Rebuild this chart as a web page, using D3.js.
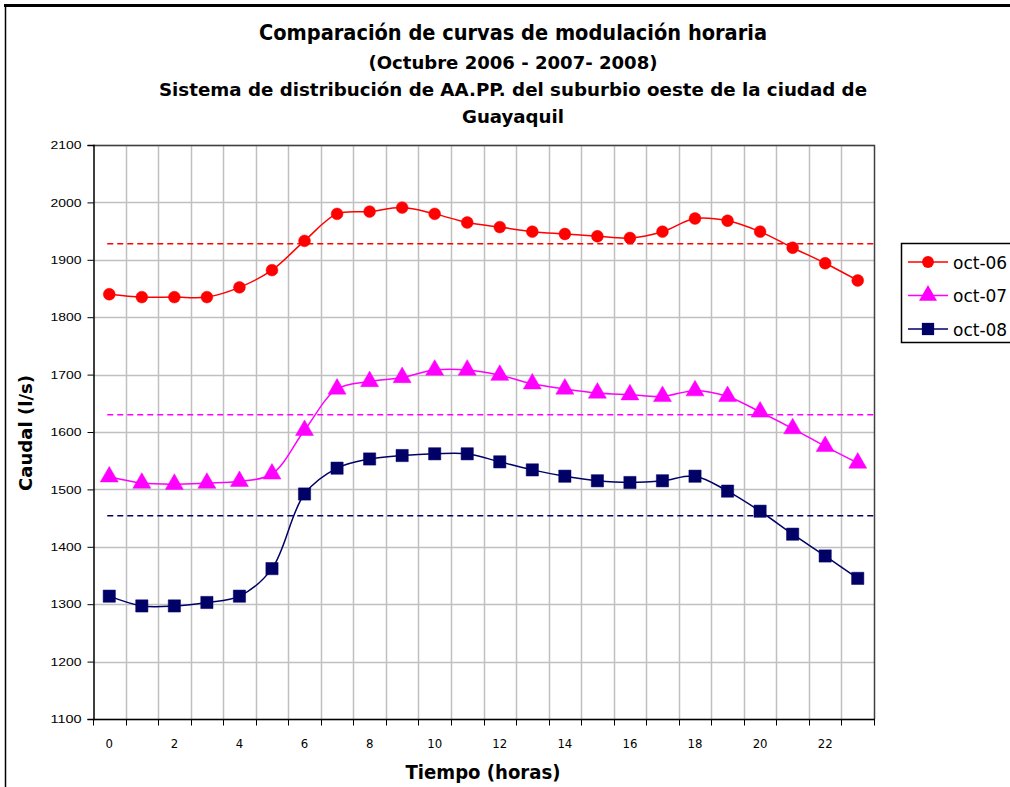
<!DOCTYPE html>
<html>
<head>
<meta charset="utf-8">
<script src="https://cdn.jsdelivr.net/npm/d3@7"></script>
<style>
  html, body { margin: 0; padding: 0; background: #fff; }
  svg { display: block; }
</style>
</head>
<body>
<svg id="chart" width="1010" height="787"></svg>
<script>
// Hourly flow (l/s) for the west-suburb distribution system, October of each year
const hours = d3.range(0, 24);
const tickHours = [0, 2, 4, 6, 8, 10, 12, 14, 16, 18, 20, 22];
const yTicks = [1100, 1200, 1300, 1400, 1500, 1600, 1700, 1800, 1900, 2000, 2100];

const oct06 = [1840, 1835, 1835, 1835, 1852, 1882, 1933, 1980, 1984, 1991, 1980, 1965,
               1957, 1949, 1945, 1941, 1938, 1949, 1972, 1968, 1949, 1921, 1894, 1864];
const oct07 = [1522, 1511, 1509, 1511, 1514, 1527, 1603, 1675, 1688, 1695, 1708, 1708,
               1699, 1684, 1675, 1668, 1665, 1662, 1672, 1662, 1635, 1606, 1575, 1546];
const oct08 = [1314, 1297, 1297, 1303, 1314, 1362, 1492, 1537, 1553, 1559, 1562, 1562,
               1548, 1534, 1523, 1515, 1512, 1515, 1523, 1497, 1462, 1422, 1384, 1345];
// Monthly mean flow for each year (dashed reference lines)
const means = [1928, 1630, 1454];

const seriesNames = ["oct-06", "oct-07", "oct-08"];
const seriesColors = ["#ff0000", "#ff00ff", "#000066"];
const seriesSymbols = [d3.symbolCircle, d3.symbolTriangle, d3.symbolSquare];
const seriesValues = [oct06, oct07, oct08];

const titleLines = [
  "Comparación de curvas de modulación horaria",
  "(Octubre 2006 - 2007- 2008)",
  "Sistema de distribución de AA.PP. del suburbio oeste de la ciudad de",
  "Guayaquil"
];

const svg = d3.select("#chart");
const plot = { left: 93, right: 874, top: 145, bottom: 719 };

const x = d3.scaleBand().domain(hours).range([plot.left, plot.right]).paddingInner(0).paddingOuter(0);
const xc = h => x(h) + x.bandwidth() / 2;
const y = d3.scaleLinear().domain([1100, 2100]).range([plot.bottom, plot.top]);

// outer chart frame
svg.append("line").attr("x1", 4).attr("x2", 1010).attr("y1", 5.5).attr("y2", 5.5)
  .attr("stroke", "#000").attr("stroke-width", 3);
svg.append("line").attr("x1", 5.5).attr("x2", 5.5).attr("y1", 4).attr("y2", 787)
  .attr("stroke", "#000").attr("stroke-width", 1.5);

// titles
const titleFont = "'DejaVu Sans Condensed', 'DejaVu Sans', sans-serif";
const titleSpec = [
  { y: 40, size: 21, width: 508 },
  { y: 69, size: 18, width: 289 },
  { y: 96, size: 18, width: 708 },
  { y: 123, size: 18, width: 102 }
];
titleLines.forEach((t, i) => {
  svg.append("text")
    .attr("x", 513).attr("y", titleSpec[i].y)
    .attr("text-anchor", "middle")
    .attr("font-family", titleFont)
    .attr("font-weight", "bold")
    .attr("font-size", titleSpec[i].size)
    .attr("textLength", titleSpec[i].width)
    .attr("lengthAdjust", "spacingAndGlyphs")
    .attr("fill", "#000")
    .text(t);
});

// gridlines
const grid = svg.append("g");
grid.selectAll("line.h").data(yTicks).join("line")
  .attr("x1", plot.left).attr("x2", plot.right)
  .attr("y1", d => Math.round(y(d)) + 0.5).attr("y2", d => Math.round(y(d)) + 0.5)
  .attr("stroke", "#c0c0c0").attr("stroke-width", 1.5);
grid.selectAll("line.v").data(hours.slice(1)).join("line")
  .attr("x1", d => Math.round(x(d)) + 0.5).attr("x2", d => Math.round(x(d)) + 0.5)
  .attr("y1", plot.top).attr("y2", plot.bottom)
  .attr("stroke", "#c0c0c0").attr("stroke-width", 1.5);

// plot frame (top and right)
svg.append("path")
  .attr("d", `M${plot.left},${plot.top + 0.5}H${plot.right + 0.5}V${plot.bottom}`)
  .attr("fill", "none").attr("stroke", "#404040").attr("stroke-width", 1.5);

// y axis
const yAxis = svg.append("g")
  .attr("transform", `translate(${plot.left + 0.5},0)`)
  .call(d3.axisLeft(y).tickValues(yTicks).tickSize(6).tickPadding(6).tickFormat(d3.format("d")));
yAxis.select(".domain").attr("stroke", "#000").attr("stroke-width", 1.5);
yAxis.selectAll(".tick line").attr("stroke", "#000");
yAxis.selectAll("text")
  .attr("font-family", "'Liberation Sans', Arial, sans-serif")
  .attr("font-size", 11.5).attr("fill", "#000")
  .attr("textLength", 31).attr("lengthAdjust", "spacingAndGlyphs");

// x axis: ticks on band boundaries, labels under every second hour
const xAxisG = svg.append("g").attr("transform", `translate(0,${plot.bottom + 0.5})`);
xAxisG.append("line").attr("x1", plot.left).attr("x2", plot.right + 1)
  .attr("stroke", "#000").attr("stroke-width", 1.5);
xAxisG.selectAll("line.t").data(hours.concat([24])).join("line")
  .attr("x1", d => Math.round(d === 24 ? plot.right : x(d)) + 0.5)
  .attr("x2", d => Math.round(d === 24 ? plot.right : x(d)) + 0.5)
  .attr("y1", 0).attr("y2", 6)
  .attr("stroke", "#000");
xAxisG.selectAll("text").data(tickHours).join("text")
  .attr("x", d => xc(d)).attr("y", 28)
  .attr("text-anchor", "middle")
  .attr("font-family", "'DejaVu Sans Condensed', sans-serif")
  .attr("font-size", 13).attr("fill", "#000")
  .text(d => d);

// axis titles
svg.append("text")
  .attr("x", 483).attr("y", 779)
  .attr("text-anchor", "middle")
  .attr("font-family", titleFont).attr("font-weight", "bold").attr("font-size", 19)
  .attr("textLength", 155).attr("lengthAdjust", "spacingAndGlyphs")
  .text("Tiempo (horas)");
svg.append("text")
  .attr("transform", "translate(32,433) rotate(-90)")
  .attr("text-anchor", "middle")
  .attr("font-family", "'DejaVu Sans', sans-serif").attr("font-weight", "bold").attr("font-size", 17)
  .attr("textLength", 116).attr("lengthAdjust", "spacingAndGlyphs")
  .text("Caudal (l/s)");

// mean lines (dashed)
svg.append("g").selectAll("line").data(means).join("line")
  .attr("x1", xc(0) - 2).attr("x2", plot.right + 2)
  .attr("y1", d => y(d)).attr("y2", d => y(d))
  .attr("stroke", (d, i) => seriesColors[i])
  .attr("stroke-width", 1.5)
  .attr("stroke-dasharray", "6,4");

// smoothed series lines with markers
const line = d3.line().x((d, i) => xc(hours[i])).y(d => y(d)).curve(d3.curveCatmullRom.alpha(0.5));
const markerSizes = [110, 140, 150];
seriesValues.forEach((vals, si) => {
  const g = svg.append("g");
  g.append("path").datum(vals)
    .attr("d", line)
    .attr("fill", "none")
    .attr("stroke", seriesColors[si])
    .attr("stroke-width", 1.5);
  g.selectAll("path.m").data(vals).join("path")
    .attr("class", "m")
    .attr("transform", (d, i) => `translate(${xc(hours[i])},${y(d)})`)
    .attr("d", d3.symbol().type(seriesSymbols[si]).size(markerSizes[si]))
    .attr("fill", seriesColors[si])
    .attr("stroke", seriesColors[si])
    .attr("stroke-width", 0.5);
});

// legend
const legend = svg.append("g");
legend.append("rect")
  .attr("x", 901.5).attr("y", 243.5).attr("width", 130).attr("height", 99)
  .attr("fill", "#fff").attr("stroke", "#000").attr("stroke-width", 1.5);
seriesNames.forEach((name, i) => {
  const ly = 262 + i * 33.5;
  legend.append("line").attr("x1", 908).attr("x2", 948).attr("y1", ly).attr("y2", ly)
    .attr("stroke", seriesColors[i]).attr("stroke-width", 1.5);
  legend.append("path")
    .attr("transform", `translate(928,${ly})`)
    .attr("d", d3.symbol().type(seriesSymbols[i]).size(markerSizes[i]))
    .attr("fill", seriesColors[i]);
  legend.append("text")
    .attr("x", 953).attr("y", ly + 6.5)
    .attr("font-family", "'DejaVu Sans', Verdana, sans-serif")
    .attr("font-size", 17).attr("fill", "#000")
    .text(name);
});
</script>
</body>
</html>
